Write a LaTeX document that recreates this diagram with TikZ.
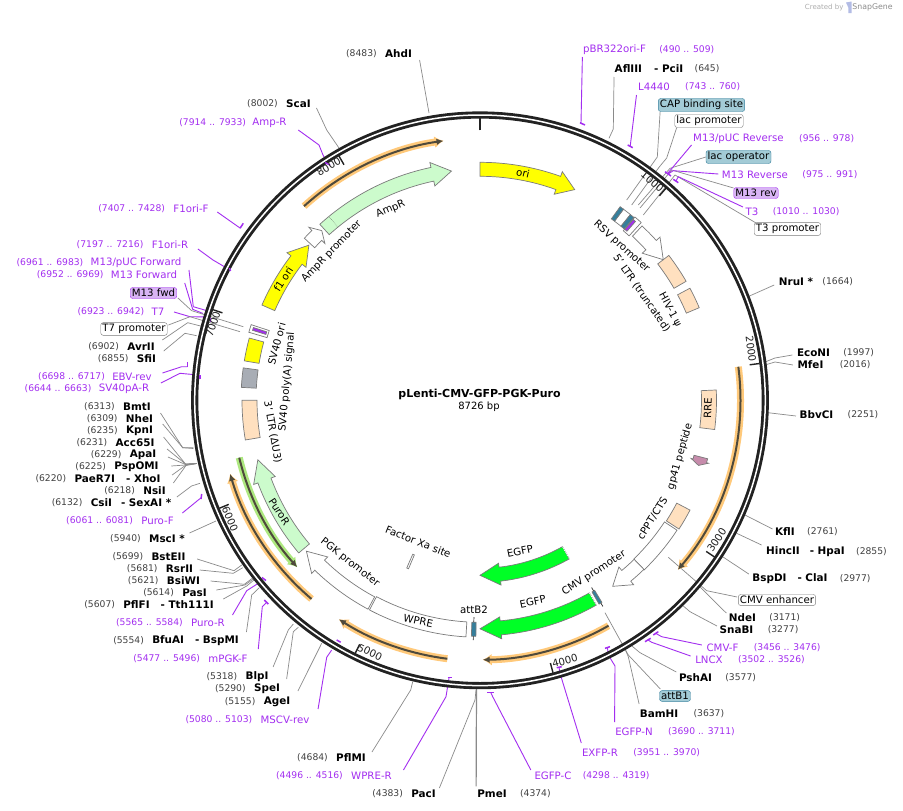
\documentclass[tikz,border=0pt]{standalone}
\usepackage{fontspec}
\setmainfont{DejaVu Sans}
\usetikzlibrary{calc, positioning, arrows.meta}

\definecolor{primerpurple}{HTML}{A32EF0}
\definecolor{numgray}{HTML}{404040}
\definecolor{leadergray}{HTML}{8A8A8A}
\definecolor{edgegray}{HTML}{7A7A7A}
\definecolor{ringblack}{HTML}{222222}
\definecolor{orihue}{HTML}{FFFF00}
\definecolor{markerhue}{HTML}{CCFBCC}
\definecolor{ltrhue}{HTML}{FFE0BF}
\definecolor{polyhue}{HTML}{A8ADB5}
\definecolor{gfphue}{HTML}{00FF26}
\definecolor{peptidehue}{HTML}{C68BAB}
\definecolor{bindhue}{HTML}{357F9C}
\definecolor{bindlight}{HTML}{A3CBD6}
\definecolor{primerlight}{HTML}{D8B4F4}
\definecolor{orfhalo}{HTML}{FFC97A}
\definecolor{orfdark}{HTML}{4F4A3C}
\definecolor{purohalo}{HTML}{ADE87F}

\tikzset{
    site/.style={font=\fontsize{10.4}{12}\selectfont\bfseries, inner sep=0.5pt},
    sitenum/.style={font=\fontsize{9.2}{11}\selectfont, text=numgray, inner sep=0.5pt},
    primer/.style={font=\fontsize{10.2}{12}\selectfont, text=primerpurple, inner sep=0.5pt},
    primernum/.style={font=\fontsize{9.2}{11}\selectfont, text=primerpurple, inner sep=0.5pt},
    tag/.style={font=\fontsize{10.2}{12}\selectfont, draw=edgegray, fill=white, rounded corners=2.5pt, inner sep=1.6pt},
    tagblue/.style={tag, draw=bindhue, fill=bindlight},
    tagpurple/.style={tag, draw=primerpurple, fill=primerlight},
    featname/.style={font=\fontsize{10.2}{12}\selectfont, inner sep=0.5pt},
    tickname/.style={font=\fontsize{10.2}{12}\selectfont, text=ringblack, inner sep=0.5pt},
    cutline/.style={draw=leadergray, line width=0.7pt},
    primerline/.style={draw=primerpurple, line width=0.9pt},
    primertick/.style={draw=primerpurple, line width=1.5pt},
    featedge/.style={draw=edgegray, line width=0.7pt},
}

\newcommand{\featarc}[5]{%
    \draw[featedge, fill=#1] (#2-90:#4) arc[start angle=#2-90, end angle=#3-90, radius=#4]
        -- (#3-90:#5) arc[start angle=#3-90, end angle=#2-90, radius=#5] -- cycle;}
\newcommand{\featarrow}[6]{%
    \draw[featedge, fill=#1] (#2-90:#6-7) arc[start angle=#2-90, end angle=#3-90, radius=#6-7]
        -- (#3-90:#6-#5) -- (#4-90:#6) -- (#3-90:#6+#5) -- (#3-90:#6+7)
        arc[start angle=#3-90, end angle=#2-90, radius=#6+7] -- cycle;}
\newcommand{\orfarc}[5]{%
    \draw[#1, line width=7pt, -{Latex[length=9pt, width=12pt]}] (#3-90:#5) arc[start angle=#3-90, end angle=#4-90, radius=#5];
    \draw[#2, line width=2pt, -{Latex[length=7pt, width=6.5pt]}] (#3-90:#5) arc[start angle=#3-90, end angle=#4-90, radius=#5];}

\begin{document}
\begin{tikzpicture}[x=1pt, y=-1pt]
    \useasboundingbox (0,0) rectangle (903,811);
    \fill[white] (0,0) rectangle (903,811);

    % credit line
    \node[font=\fontsize{7}{9}\selectfont, text=black!32, inner sep=0pt] (created) at (824.2,7.3) {Created by};
    \node[font=\fontsize{7.8}{9}\selectfont, text=black!45, inner sep=0pt] (brand) at (872.5,7.3) {SnapGene};
    \fill[cyan!35!blue!30] (846,2.5) -- (851.5,1.5) -- (851.5,13) -- (848.3,13) -- (848.3,7.5) -- cycle;

    % title
    \node[font=\fontsize{11}{13}\selectfont\bfseries, inner sep=0pt] (title) at (479.5,394) {pLenti-CMV-GFP-PGK-Puro};
    \node[font=\fontsize{10}{12}\selectfont, inner sep=0pt] (length) at (479,407) {8726 bp};

    % enzymes and primers, left side and top
    \node[site] (ahdi) at (398.5,54) {AhdI}; \node[sitenum, left=7pt of ahdi] (ahdin) {(8483)};
    \node[site] (scai) at (298.5,104) {ScaI}; \node[sitenum, left=7pt of scai] (scain) {(8002)};
    \node[primer] (ampr) at (269.5,123) {Amp-R}; \node[primernum, left=5pt of ampr] (amprn) {(7914 .. 7933)};
    \node[primer] (foriF) at (191,209) {F1ori-F}; \node[primernum, left=7pt of foriF] (foriFn) {(7407 .. 7428)};
    \node[primer] (foriR) at (170,245) {F1ori-R}; \node[primernum, left=7pt of foriR] (foriRn) {(7197 .. 7216)};
    \node[primer] (pucF) at (136,263) {M13/pUC Forward}; \node[primernum, left=6pt of pucF] (pucFn) {(6961 .. 6983)};
    \node[primer] (mthreeF) at (144,275) {M13 Forward}; \node[primernum, left=6pt of mthreeF] (mthreeFn) {(6952 .. 6969)};
    \node[tagpurple] (mfwd) at (153.5,293) {M13 fwd};
    \node[primer] (tseven) at (158,312) {T7}; \node[primernum, left=6pt of tseven] (tsevenn) {(6923 .. 6942)};
    \node[tag] (tsevenp) at (134,329) {T7 promoter};
    \node[site] (avrii) at (141,347) {AvrII}; \node[sitenum, left=7pt of avrii] (avriin) {(6902)};
    \node[site] (sfii) at (146.5,359) {SfiI}; \node[sitenum, left=7pt of sfii] (sfiin) {(6855)};
    \node[primer] (ebv) at (132,377) {EBV-rev}; \node[primernum, left=6pt of ebv] (ebvn) {(6698 .. 6717)};
    \node[primer] (svpa) at (124,389) {SV40pA-R}; \node[primernum, left=6pt of svpa] (svpan) {(6644 .. 6663)};
    \node[site] (bmti) at (137,407) {BmtI}; \node[sitenum, left=7pt of bmti] (bmtin) {(6313)};
    \node[site] (nhei) at (139.5,419) {NheI}; \node[sitenum, left=7pt of nhei] (nhein) {(6309)};
    \node[site] (kpni) at (139.5,431) {KpnI}; \node[sitenum, left=7pt of kpni] (kpnin) {(6235)};
    \node[site] (acci) at (135,443) {Acc65I}; \node[sitenum, left=7pt of acci] (accin) {(6231)};
    \node[site] (apai) at (143,455) {ApaI}; \node[sitenum, left=7pt of apai] (apain) {(6229)};
    \node[site] (pspo) at (136.5,467) {PspOMI}; \node[sitenum, left=7pt of pspo] (pspon) {(6225)};
    \node[site] (xhoi) at (117.5,479) {PaeR7I\hspace{11pt}- XhoI}; \node[sitenum, left=7pt of xhoi] (xhoin) {(6220)};
    \node[site] (nsii) at (154.5,491) {NsiI}; \node[sitenum, left=7pt of nsii] (nsiin) {(6218)};
    \node[site] (sexa) at (131,503) {CsiI\hspace{9pt}- SexAI *}; \node[sitenum, left=7pt of sexa] (sexan) {(6132)};
    \node[primer] (purof) at (157.5,521) {Puro-F}; \node[primernum, left=7pt of purof] (purofn) {(6061 .. 6081)};
    \node[site] (msci) at (167,539) {MscI *}; \node[sitenum, left=7pt of msci] (mscin) {(5940)};
    \node[site] (bste) at (168.5,557) {BstEII}; \node[sitenum, left=7pt of bste] (bsten) {(5699)};
    \node[site] (rsri) at (179.5,569) {RsrII}; \node[sitenum, left=7pt of rsri] (rsrin) {(5681)};
    \node[site] (bsiw) at (183.5,581) {BsiWI}; \node[sitenum, left=7pt of bsiw] (bsiwn) {(5621)};
    \node[site] (pasi) at (194.5,593) {PasI}; \node[sitenum, left=7pt of pasi] (pasin) {(5614)};
    \node[site] (tthi) at (168.5,605) {PflFI\hspace{11pt}- Tth111I}; \node[sitenum, left=7pt of tthi] (tthin) {(5607)};
    \node[primer] (puror) at (208,623) {Puro-R}; \node[primernum, left=7pt of puror] (purorn) {(5565 .. 5584)};
    \node[site] (bspm) at (195.5,641) {BfuAI\hspace{11pt}- BspMI}; \node[sitenum, left=7pt of bspm] (bspmn) {(5554)};
    \node[primer] (mpgk) at (228,659) {mPGK-F}; \node[primernum, left=7pt of mpgk] (mpgkn) {(5477 .. 5496)};
    \node[site] (blpi) at (257,677) {BlpI}; \node[sitenum, left=7pt of blpi] (blpin) {(5318)};
    \node[site] (spei) at (267,689) {SpeI}; \node[sitenum, left=7pt of spei] (spein) {(5290)};
    \node[site] (agei) at (277,702) {AgeI}; \node[sitenum, left=7pt of agei] (agein) {(5155)};
    \node[primer] (mscv) at (285,720) {MSCV-rev}; \node[primernum, left=7pt of mscv] (mscvn) {(5080 .. 5103)};
    \node[site] (pfli) at (351,758) {PflMI}; \node[sitenum, left=7pt of pfli] (pflin) {(4684)};
    \node[primer] (wprer) at (371.5,776) {WPRE-R}; \node[primernum, left=7pt of wprer] (wprern) {(4496 .. 4516)};
    \node[site] (paci) at (423.5,794) {PacI}; \node[sitenum, left=7pt of paci] (pacin) {(4383)};

    % enzymes and primers, right side
    \node[site] (pmei) at (492,794) {PmeI}; \node[sitenum, right=12pt of pmei] (pmein) {(4374)};
    \node[primer] (egfpc) at (553,776) {EGFP-C}; \node[primernum, right=10pt of egfpc] (egfpcn) {(4298 .. 4319)};
    \node[primer] (exfp) at (600,753) {EXFP-R}; \node[primernum, right=14pt of exfp] (exfpn) {(3951 .. 3970)};
    \node[primer] (egfpn) at (634,732) {EGFP-N}; \node[primernum, right=14pt of egfpn] (egfpnn) {(3690 .. 3711)};
    \node[site] (bamh) at (659,714) {BamHI}; \node[sitenum, right=14pt of bamh] (bamhn) {(3637)};
    \node[tagblue] (attbone) at (675,696) {attB1};
    \node[site] (psha) at (695.5,678) {PshAI}; \node[sitenum, right=12pt of psha] (pshan) {(3577)};
    \node[primer] (lncx) at (709,660) {LNCX}; \node[primernum, right=14pt of lncx] (lncxn) {(3502 .. 3526)};
    \node[primer] (cmvf) at (722.5,648) {CMV-F}; \node[primernum, right=14pt of cmvf] (cmvfn) {(3456 .. 3476)};
    \node[site] (snab) at (736.5,630) {SnaBI}; \node[sitenum, right=13pt of snab] (snabn) {(3277)};
    \node[site] (ndei) at (742.5,618) {NdeI}; \node[sitenum, right=12pt of ndei] (ndein) {(3171)};
    \node[tag] (cmvenh) at (777,600) {CMV enhancer};
    \node[site] (clai) at (790,579) {BspDI\hspace{11pt}- ClaI}; \node[sitenum, right=11pt of clai] (clain) {(2977)};
    \node[site] (hpai) at (805.5,552) {HincII\hspace{10pt}- HpaI}; \node[sitenum, right=10pt of hpai] (hpain) {(2855)};
    \node[site] (kfli) at (785,532) {KflI}; \node[sitenum, right=11pt of kfli] (kflin) {(2761)};
    \node[site] (bbvc) at (816.5,415) {BbvCI}; \node[sitenum, right=13pt of bbvc] (bbvcn) {(2251)};
    \node[site] (mfei) at (810.5,365) {MfeI}; \node[sitenum, right=15pt of mfei] (mfein) {(2016)};
    \node[site] (econ) at (813.5,353) {EcoNI}; \node[sitenum, right=12pt of econ] (econn) {(1997)};
    \node[site] (nrui) at (796,282) {NruI *}; \node[sitenum, right=8pt of nrui] (nruin) {(1664)};
    \node[tag] (tthreep) at (787.5,229) {T3 promoter};
    \node[primer] (tthree) at (752,212) {T3}; \node[primernum, right=13pt of tthree] (tthreen) {(1010 .. 1030)};
    \node[tagpurple] (mrev) at (756,193) {M13 rev};
    \node[primer] (mthreeR) at (755,175) {M13 Reverse}; \node[primernum, right=13pt of mthreeR] (mthreeRn) {(975 .. 991)};
    \node[tagblue] (lacop) at (738.5,157) {lac operator};
    \node[primer] (pucR) at (738.5,139) {M13/pUC Reverse}; \node[primernum, right=14pt of pucR] (pucRn) {(956 .. 978)};
    \node[tag] (lacp) at (709,121) {lac promoter};
    \node[tagblue] (cap) at (701.5,105) {CAP binding site};
    \node[primer] (lfour) at (654,87) {L4440}; \node[primernum, right=14pt of lfour] (lfourn) {(743 .. 760)};
    \node[site] (pcii) at (649,69) {AflIII\hspace{12pt}- PciI}; \node[sitenum, right=10pt of pcii] (pciin) {(645)};
    \node[primer] (pbr) at (614.5,50) {pBR322ori-F}; \node[primernum, right=12pt of pbr] (pbrn) {(490 .. 509)};

    % leaders
    \coordinate (ahdisite) at (429,113); \draw[cutline] ([shift={(7,6)}]ahdi.east) -- (ahdisite);
    \coordinate (scaisite) at (339,148); \draw[cutline] ([shift={(5,4)}]scai.east) -- (326.7,130) -- (scaisite);
    \coordinate (amprsite) at (327,162); \draw[primerline] ([shift={(11,7)}]ampr.east) -- (319,145) -- (323,155) -- (amprsite);
    \coordinate (foriFsite) at (240,228); \draw[primerline] ([shift={(8,3)}]foriF.east) -- (foriFsite);
    \coordinate (foriRsite) at (230,270); \draw[primerline] ([shift={(9,4)}]foriR.east) -- (213,260) -- (foriRsite);
    \coordinate (pucFsite) at (208,311); \draw[primerline] ([shift={(7,7)}]pucF.east) -- (193.3,306.7) -- (pucFsite);
    \coordinate (mthreeFsite) at (203,313.5); \draw[primerline] ([shift={(7,8)}]mthreeF.east) -- (192.7,309.3) -- (mthreeFsite);
    \coordinate (mfwdsite) at (243.3,326.7); \draw[cutline] ([shift={(1,5)}]mfwd.east) -- (191.7,310.7) -- (mfwdsite);
    \coordinate (tsevensite) at (210,317); \draw[primerline] ([shift={(9,0)}]tseven.east) -- (190,316.7) -- (tsevensite);
    \coordinate (tsevenpsite) at (240,331.7); \draw[cutline] ([shift={(1,-4)}]tsevenp.east) -- (190,316.7) -- (tsevenpsite);
    \coordinate (avriisite) at (203.3,326.7); \draw[cutline] ([shift={(7,-7)}]avrii.east) -- (187.7,322.7) -- (avriisite);
    \coordinate (sfiisite) at (196.7,335.7); \draw[cutline] ([shift={(7,-8)}]sfii.east) -- (185,333.3) -- (sfiisite);
    \coordinate (ebvsite) at (187.3,366.7); \draw[primerline] ([shift={(10,-4)}]ebv.east) -- (181.7,366.7) -- (ebvsite);
    \coordinate (svpasite) at (198,375); \draw[primerline] ([shift={(11,-6)}]svpa.east) -- (180,373.3) -- (svpasite);
    \coordinate (bmtisite) at (193.3,447.7); \draw[cutline] ([shift={(9,6)}]bmti.east) -- (182.7,447.7) -- (bmtisite);
    \coordinate (nheisite) at (193.3,448.5); \draw[cutline] ([shift={(9,5)}]nhei.east) -- (182.7,447.7) -- (nheisite);
    \coordinate (fansite) at (196.7,463.5);
    \draw[cutline] ([shift={(10,6)}]kpni.east) -- (185.5,464) -- (fansite);
    \draw[cutline] ([shift={(12,6)}]acci.east) -- (185.5,464) -- (fansite);
    \draw[cutline] ([shift={(11,2)}]apai.east) -- (185.5,464.5) -- (fansite);
    \draw[cutline] ([shift={(12,-1)}]pspo.east) -- (185.5,465) -- (fansite);
    \draw[cutline] ([shift={(11,-4)}]xhoi.east) -- (186,465) -- (fansite);
    \draw[cutline] ([shift={(7,-8)}]nsii.east) -- (186,465.5) -- (fansite);
    \coordinate (sexasite) at (200,483.3); \draw[cutline] ([shift={(5,-6)}]sexa.east) -- (191.5,486) -- (sexasite);
    \coordinate (purofsite) at (201,498); \draw[primerline] ([shift={(8,-8)}]purof.east) -- (198.3,500) -- (purofsite);
    \coordinate (mscisite) at (216,521); \draw[cutline] ([shift={(4,-6)}]msci.east) -- (mscisite);
    \coordinate (bstesite) at (241.7,565); \draw[cutline] ([shift={(11,2)}]bste.east) -- (234,570.7) -- (bstesite);
    \coordinate (rsrisite) at (242.7,567.7); \draw[cutline] ([shift={(6,1)}]rsri.east) -- (233.3,573.3) -- (rsrisite);
    \coordinate (bsiwsite) at (252.3,578.3); \draw[cutline] ([shift={(10,0)}]bsiw.east) -- (244.3,584.3) -- (bsiwsite);
    \coordinate (pasisite) at (253.3,579); \draw[cutline] ([shift={(9,-3)}]pasi.east) -- (245,585) -- (pasisite);
    \coordinate (tthisite) at (254,580); \draw[cutline] ([shift={(9,-6)}]tthi.east) -- (246.7,586) -- (tthisite);
    \coordinate (purorsite) at (262,580); \draw[primerline] ([shift={(7,-8)}]puror.east) -- (246.7,590.7) -- (258.3,583.3) -- (purorsite);
    \coordinate (bspmsite) at (259.3,587.7); \draw[cutline] ([shift={(7,-9)}]bspm.east) -- (251.7,595) -- (bspmsite);
    \coordinate (mpgksite) at (266,603); \draw[primerline] ([shift={(10,-10)}]mpgk.east) -- (262.3,606.7) -- (mpgksite);
    \coordinate (blpisite) at (293.3,624); \draw[cutline] ([shift={(4,-10)}]blpi.east) -- (288.3,630) -- (blpisite);
    \coordinate (speisite) at (298.3,627.3); \draw[cutline] ([shift={(6,-10)}]spei.east) -- (293.3,631.7) -- (speisite);
    \coordinate (ageisite) at (321.7,643.3); \draw[cutline] ([shift={(7,-11)}]agei.east) -- (ageisite);
    \coordinate (mscvsite) at (331.7,650); \draw[primerline] ([shift={(8,-11)}]mscv.east) -- (326.7,657.3) -- (mscvsite);
    \coordinate (pflisite) at (412.7,681.7); \draw[cutline] ([shift={(5.5,-6)}]pfli.east) -- (410.7,690) -- (pflisite);
    \coordinate (wprersite) at (449,678); \draw[primerline] ([shift={(11,-6)}]wprer.east) -- (446,696.7) -- (wprersite);
    \coordinate (pacisite) at (476,690); \draw[cutline] ([shift={(3,-6)}]paci.east) -- (475,700) -- (pacisite);
    \coordinate (pmeisite) at (476.5,688); \draw[cutline, line width=1.2pt] ([shift={(-0.5,-3)}]pmei.north west) -- (pmeisite);
    \coordinate (egfpcsite) at (491,693); \draw[primerline] ([shift={(-3,-6)}]egfpc.west) -- (492.7,696.7) -- (egfpcsite);
    \coordinate (exfpsite) at (559,667); \draw[primerline] ([shift={(0,-10)}]exfp.west) -- (560,673.3) -- (exfpsite);
    \coordinate (egfpnsite) at (607.5,648); \draw[primerline] ([shift={(0,-10)}]egfpn.west) -- (615,666) -- (608.3,655) -- (egfpnsite);
    \coordinate (bamhsite) at (623.3,645); \draw[cutline] ([shift={(0,-10)}]bamh.west) -- (628.3,656.7) -- (bamhsite);
    \coordinate (attonesite) at (605,612.7); \draw[cutline] ([shift={(1,-7)}]attbone.west) -- (628.3,655) -- (attonesite);
    \coordinate (pshasite) at (628.3,643); \draw[cutline] ([shift={(-2,-6)}]psha.west) -- (640,652.7) -- (pshasite);
    \coordinate (lncxsite) at (648,640); \draw[primerline] ([shift={(-4,-4)}]lncx.west) -- (651.7,642.3) -- (lncxsite);
    \coordinate (cmvfsite) at (656,633.5); \draw[primerline] ([shift={(-4,-3)}]cmvf.west) -- (661.7,636.7) -- (cmvfsite);
    \coordinate (snabsite) at (683.3,606); \draw[cutline] ([shift={(-2,-4)}]snab.west) -- (690,611.7) -- (snabsite);
    \coordinate (ndeisite) at (700,587); \draw[cutline] ([shift={(-2,-5)}]ndei.west) -- (ndeisite);
    \coordinate (enhsite) at (668.3,557.3); \draw[cutline] ([shift={(-1,-3)}]cmvenh.west) -- (706.7,590.7) -- (enhsite);
    \coordinate (claisite) at (720,555); \draw[cutline] ([shift={(-3,-5)}]clai.west) -- (claisite);
    \coordinate (hpaisite) at (736.7,533.3); \draw[cutline] ([shift={(-4,-7)}]hpai.west) -- (hpaisite);
    \coordinate (kflisite) at (745,515); \draw[cutline] ([shift={(-2,-3)}]kfli.west) -- (kflisite);
    \coordinate (bbvcsite) at (768,412.7); \draw[cutline] ([shift={(-3,1)}]bbvc.west) -- (bbvcsite);
    \coordinate (mfeisite) at (765,365); \draw[cutline] ([shift={(-4,0)}]mfei.west) -- (775,362) -- (mfeisite);
    \coordinate (econsite) at (765,362); \draw[cutline] ([shift={(-4,2)}]econ.west) -- (775,358) -- (econsite);
    \coordinate (nruisite) at (745,298); \draw[cutline] ([shift={(-4,3)}]nrui.west) -- (nruisite);
    \coordinate (tpromsite) at (643.3,215); \draw[cutline] ([shift={(2,-6)}]tthreep.west) -- (675,175) -- (tpromsite);
    \coordinate (tthreesite) at (676,181); \draw[primerline] ([shift={(-2,-5)}]tthree.west) -- (678.3,176.7) -- (tthreesite);
    \coordinate (mrevsite) at (640,208); \draw[cutline] ([shift={(0,-5)}]mrev.west) -- (671.7,170) -- (mrevsite);
    \coordinate (mRsite) at (668,174); \draw[primerline] ([shift={(-3,-1)}]mthreeR.west) -- (673.3,170.7) -- (mRsite);
    \coordinate (lacopsite) at (638.3,205); \draw[cutline] (lacop.west) -- (670,168.3) -- (lacopsite);
    \coordinate (pRsite) at (668,173); \draw[primerline] ([shift={(-1,6)}]pucR.west) -- (pRsite);
    \coordinate (lacpsite) at (631.7,205); \draw[cutline] ([shift={(2,7)}]lacp.west) -- (666.7,158) -- (659,167.3) -- (lacpsite);
    \coordinate (capsite) at (626.7,200); \draw[cutline] ([shift={(2,7)}]cap.west) -- (657.3,157) -- (capsite);
    \coordinate (lfoursite) at (630.2,146.3); \draw[primerline] ([shift={(-1,8)}]lfour.west) -- (lfoursite);
    \coordinate (pciisite) at (609,138.3); \draw[cutline] ([shift={(0,8)}]pcii.west) -- (613.3,129) -- (pciisite);
    \coordinate (pbrsite) at (582.5,124); \draw[primerline] ([shift={(0,7)}]pbr.west) -- (581,123.3) -- (pbrsite);

    % plasmid
    \begin{scope}[shift={(480,400.3)}]
        \draw[ringblack, line width=7.2pt] (0,0) circle[radius=285.3];
        \draw[white, line width=1.5pt] (0,0) circle[radius=285.3];
        \draw[ringblack, line width=1.6pt] (0-90:270) -- (0-90:282);
        \foreach \tickangle in {41.25, 82.5, 123.75, 165, 206.25, 247.5, 288.75, 330}
            \draw[ringblack, line width=1.4pt] (\tickangle-90:272) -- (\tickangle-90:282);

        \orfarc{orfhalo}{orfdark}{-42.2}{-8}{262}
        \orfarc{orfhalo}{orfdark}{82.6}{130.6}{260.5}
        \orfarc{orfhalo}{orfdark}{150.3}{179.4}{259.5}
        \orfarc{orfhalo}{orfdark}{187.2}{212.8}{260.5}
        \orfarc{orfhalo}{orfdark}{220.3}{253.6}{260.5}
        \orfarc{purohalo}{orfdark}{256.6}{227.6}{247.5}

        \featarrow{orihue}{0}{19.8}{24.2}{12}{231}
        \featarrow{white}{-47.3}{-44.7}{-43}{11.5}{232}
        \featarrow{markerhue}{-42.3}{-11.9}{-7.1}{12}{231}
        \draw[densely dotted, black!70] (-39.4-90:224) -- (-39.4-90:238);
        \featarrow{orihue}{-66.4}{-52.6}{-47.8}{12}{231}
        \featarc{orihue}{-74.9}{-80.5}{224}{239}
        \featarc{polyhue}{-82.2}{-86.9}{224}{239}
        \featarc{ltrhue}{260.4}{270}{223}{238}
        \featarrow{markerhue}{229.9}{249.6}{255}{11.5}{230}
        \featarrow{white}{208.2}{224.2}{229}{11.5}{230}
        \featarc{white}{183.4}{207.8}{222}{237}
        \featarrow{gfphue}{150.4}{174.8}{180}{11}{228.5}
        \draw[densely dotted, white, line width=0.9pt] (150.4-90:221.5) -- (150.4-90:235.5);
        \featarrow{gfphue}{150.6}{173.5}{180}{11}{175}
        \draw[densely dotted, white, line width=0.9pt] (150.6-90:168) -- (150.6-90:182);
        \featarc{ltrhue}{117.6}{122.9}{222}{237}
        \featarc{white}{123.4}{135.9}{221}{236}
        \featarrow{white}{135.9}{140.2}{144.5}{11.5}{228.5}
        \featarc{ltrhue}{87.5}{97.1}{221.5}{236.5}
        \featarrow{peptidehue}{104.4}{105.4}{106.6}{9}{228}
        \featarc{ltrhue}{52.5}{60}{224}{238}
        \featarc{ltrhue}{61.9}{67.1}{224}{238}
        \featarrow{white}{42.9}{47.8}{52.5}{12}{231}

        \featarc{white}{36.9}{39}{224}{239}
        \featarc{white}{40.2}{42.2}{222}{240}
        \featarc{bindhue}{35.9}{36.9}{224}{239}
        \featarc{bindhue}{39}{40.1}{224}{239}
        \featarc{primerpurple}{40.3}{41}{224}{237}
        \featarc{white}{-73.6}{-71.7}{222}{241}
        \featarc{primerpurple}{-72.9}{-72.2}{224}{238}
        \featarc{white}{203}{203.6}{168}{183}

        \draw[ringblack, line width=0.7pt] (181.6-90:217) -- (181.6-90:240);
        \featarc{bindhue}{181}{182.1}{222}{236}
        \draw[ringblack, line width=0.7pt] (149.2-90:218) -- (149.2-90:240);
        \featarc{bindhue}{148.9}{149.7}{222}{236}
    \end{scope}

    % primer ticks
    \draw[primertick] (325,162.5) -- (330,165);
    \draw[primertick] (240,228.3) -- (243.3,223.3);
    \draw[primertick] (229.5,268) -- (230.5,271);
    \draw[primertick] (210.7,318) -- (210.7,322);
    \draw[primertick] (187.3,362) -- (187.3,367);
    \draw[primertick] (200,375) -- (200,379);
    \draw[primertick] (201.7,494) -- (201,499);
    \draw[primertick] (262,577.5) -- (266,580.5);
    \draw[primertick] (264.3,600) -- (268.3,604);
    \draw[primertick] (336.7,640) -- (340.7,642.3);
    \draw[primertick] (447.7,677.3) -- (451.7,677.3);
    \draw[primertick] (487.3,692.7) -- (494,692.7);
    \draw[primertick] (556.7,667.7) -- (561.7,666.7);
    \draw[primertick] (605,648.3) -- (610,646.7);
    \draw[primertick] (645,641.7) -- (650.7,638.3);
    \draw[primertick] (653.3,635) -- (658.3,631.7);
    \draw[primertick] (673.3,179.3) -- (678.3,182.7);
    \draw[primertick] (665,171.7) -- (671,176);
    \draw[primertick] (627.7,145) -- (632.7,147.7);
    \draw[primertick] (580,122.7) -- (585,125);

    % ruler numbers
    \node[tickname, rotate=-41] (rulerone) at (652.3,181.7) {1000};
    \node[tickname, rotate=-82.5] (rulertwo) at (751,349) {2000};
    \node[tickname, rotate=56] (rulerthree) at (716.7,540) {3000};
    \node[tickname, rotate=15] (rulerfour) at (565,661) {4000};
    \node[tickname, rotate=-26] (rulerfive) at (370,652.5) {5000};
    \node[tickname, rotate=-67] (rulersix) at (230,519) {6000};
    \node[tickname, rotate=71] (rulerseven) at (213,324) {7000};
    \node[tickname, rotate=30] (rulereight) at (328.7,166.7) {8000};

    % feature names
    \node[featname, rotate=-13] (oriname) at (523,173) {ori};
    \node[featname, rotate=57] (fname) at (283.3,279) {f1 ori};
    \node[featname, rotate=23] (amprname) at (390.7,209.3) {AmpR};
    \node[featname, rotate=46] (amppname) at (331.7,251.7) {AmpR promoter};
    \node[featname, rotate=75] (svoriname) at (276.7,344) {SV40 ori};
    \node[featname, rotate=85] (svpolyname) at (287,382) {SV40 poly(A) signal};
    \node[featname, rotate=-80] (ltrthreename) at (272.7,432) {3' LTR (ΔU3)};
    \node[featname, rotate=-62] (psiname) at (670,310) {HIV-1 ψ};
    \node[featname, rotate=-55] (ltrfivename) at (641.7,293.3) {5' LTR (truncated)};
    \node[featname, rotate=-42] (rsvname) at (621.7,246.7) {RSV promoter};
    \node[featname, rotate=88] (rrename) at (707.7,408) {RRE};
    \node[featname, rotate=74] (gpname) at (680,456.7) {gp41 peptide};
    \node[featname, rotate=58] (cpptname) at (652.7,518.3) {cPPT/CTS};
    \node[featname, rotate=33] (cmvname) at (594,573.3) {CMV promoter};
    \node[featname, rotate=12] (gfpupname) at (520,551) {EGFP};
    \node[featname, rotate=12] (gfplowname) at (532.7,601.7) {EGFP};
    \node[featname] (atttwoname) at (474,609.3) {attB2};
    \node[featname, rotate=-12] (wprename) at (418.3,620.7) {WPRE};
    \node[featname, rotate=-38] (pgkname) at (350,562.7) {PGK promoter};
    \node[featname, rotate=-57] (puroname) at (279.3,511.7) {PuroR};
    \node[featname, rotate=-22] (xaname) at (418.3,541.7) {Factor Xa site};
\end{tikzpicture}
\end{document}
